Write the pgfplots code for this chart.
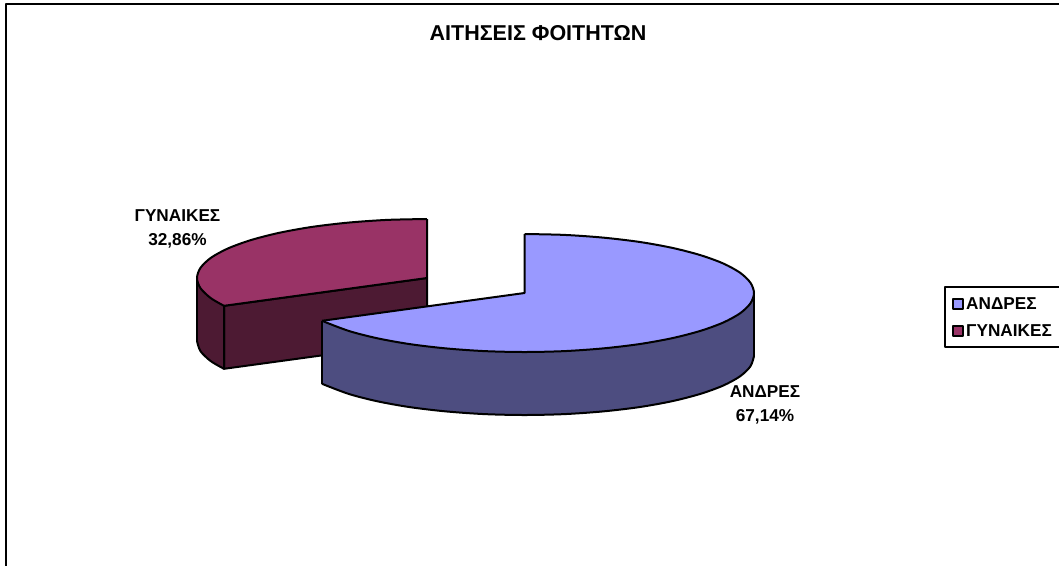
\documentclass[border=0pt]{standalone}
\usepackage{pgfplots}
\pgfplotsset{compat=1.18}
\usepackage{fontspec}
\setmainfont{Liberation Sans}
\definecolor{bluetop}{HTML}{9999FF}
\definecolor{blueside}{HTML}{4D4D80}
\definecolor{redtop}{HTML}{993366}
\definecolor{redside}{HTML}{4D1A33}
\begin{document}
\begin{tikzpicture}
\begin{axis}[
  scale only axis, width=1059pt, height=566pt,
  xmin=0, xmax=1059, ymin=0, ymax=566, y dir=reverse,
  hide axis, clip=true,
  every axis plot/.append style={forget plot, line join=round, line width=2pt},
  legend style={at={(axis cs:952,293)}, anchor=north west, draw=none, fill=none,
    font=\fontsize{17.2}{20}\selectfont\bfseries, row sep=10pt,
    inner xsep=0pt, inner ysep=2pt, legend cell align=left,
    /tikz/every even column/.style={column sep=5pt}},
  legend image code/.code={\draw[#1, line width=2pt] (0pt,-5pt) rectangle (10pt,5pt);},
]
% extent of the picture
\addplot[draw=none, line width=0pt] coordinates {(0,0) (1059,566)};
% frame
\addplot[draw=black, line width=1.6pt] coordinates {(1059,4) (6,4) (6,566)};
% red slice: cut face, outer side, top
\addplot[fill=redside, draw=black] coordinates {(224,305.8) (427,278) (427,341) (224,368.8)} -- cycle;
\addplot[fill=redside, draw=none] coordinates {(197,278) (200.5,288.2) (210.9,298.2) (224,305.8) (224,368.8) (210.9,361.2) (200.5,351.2) (197,341)};
\addplot[draw=black, smooth] coordinates {(197,341) (200.5,351.2) (210.9,361.2) (224,368.8)};
\addplot[draw=black] coordinates {(197,278) (197,341)};
\addplot[fill=redtop, draw=none] coordinates {(427,278) (427,219) (387,219.9) (348.3,222.6) (312,226.9) (279.2,232.8) (250.8,240.1) (227.8,248.5) (210.9,257.8) (200.5,267.8) (197,278) (200.5,288.2) (210.9,298.2) (224,305.8)};
\addplot[draw=black, smooth] coordinates {(427,219) (387,219.9) (348.3,222.6) (312,226.9) (279.2,232.8) (250.8,240.1) (227.8,248.5) (210.9,257.8) (200.5,267.8) (197,278) (200.5,288.2) (210.9,298.2) (224,305.8)};
\addplot[draw=black] coordinates {(224,368.8) (224,305.8) (427,278) (427,219)};
% blue slice: outer side, top
\addplot[fill=blueside, draw=none] coordinates {(754,293) (750.5,303.2) (740.2,313.2) (723.3,322.5) (700.3,330.9) (672,338.2) (639.3,344.1) (603,348.4) (564.4,351.1) (524.5,352) (484.6,351.1) (446,348.4) (409.7,344.1) (377,338.2) (348.7,330.9) (325.7,322.5) (322,320.8) (322,383.8) (325.7,385.5) (348.7,393.9) (377,401.2) (409.7,407.1) (446,411.4) (484.6,414.1) (524.5,415) (564.4,414.1) (603,411.4) (639.3,407.1) (672,401.2) (700.3,393.9) (723.3,385.5) (740.2,376.2) (750.5,366.2) (754,356)};
\addplot[draw=black, smooth] coordinates {(754,356) (750.5,366.2) (740.2,376.2) (723.3,385.5) (700.3,393.9) (672,401.2) (639.3,407.1) (603,411.4) (564.4,414.1) (524.5,415) (484.6,414.1) (446,411.4) (409.7,407.1) (377,401.2) (348.7,393.9) (322,383.8)};
\addplot[draw=black] coordinates {(754,293) (754,356)};
\addplot[draw=black] coordinates {(322,320.8) (322,383.8)};
\addplot[fill=bluetop, draw=none] coordinates {(524.5,293) (524.5,234) (564.4,234.9) (603,237.6) (639.3,241.9) (672,247.8) (700.3,255.1) (723.3,263.5) (740.2,272.8) (750.5,282.8) (754,293) (750.5,303.2) (740.2,313.2) (723.3,322.5) (700.3,330.9) (672,338.2) (639.3,344.1) (603,348.4) (564.4,351.1) (524.5,352) (484.6,351.1) (446,348.4) (409.7,344.1) (377,338.2) (348.7,330.9) (325.7,322.5) (322,320.8)};
\addplot[draw=black, smooth] coordinates {(524.5,234) (564.4,234.9) (603,237.6) (639.3,241.9) (672,247.8) (700.3,255.1) (723.3,263.5) (740.2,272.8) (750.5,282.8) (754,293) (750.5,303.2) (740.2,313.2) (723.3,322.5) (700.3,330.9) (672,338.2) (639.3,344.1) (603,348.4) (564.4,351.1) (524.5,352) (484.6,351.1) (446,348.4) (409.7,344.1) (377,338.2) (348.7,330.9) (322,320.8)};
\addplot[draw=black] coordinates {(524.5,234) (524.5,293) (322,320.8)};
% legend box
\addplot[draw=black, line width=1.2pt] coordinates {(1059,287) (945,287) (945,347) (1059,347)};
% legend
\addlegendimage{fill=bluetop, draw=black}
\addlegendentry{ΑΝΔΡΕΣ}
\addlegendimage{fill=redtop, draw=black}
\addlegendentry{ΓΥΝΑΙΚΕΣ}
% texts
\node[font=\fontsize{21.5}{24}\selectfont\bfseries] at (axis cs:538,33.5) {ΑΙΤΗΣΕΙΣ ΦΟΙΤΗΤΩΝ};
\node[font=\fontsize{17.2}{20}\selectfont\bfseries] at (axis cs:177.5,216) {ΓΥΝΑΙΚΕΣ};
\node[font=\fontsize{17.2}{20}\selectfont\bfseries] at (axis cs:177.5,241) {32,86\%};
\node[font=\fontsize{17.2}{20}\selectfont\bfseries] at (axis cs:765,392) {ΑΝΔΡΕΣ};
\node[font=\fontsize{17.2}{20}\selectfont\bfseries] at (axis cs:765,417) {67,14\%};
\end{axis}
\end{tikzpicture}
\end{document}
